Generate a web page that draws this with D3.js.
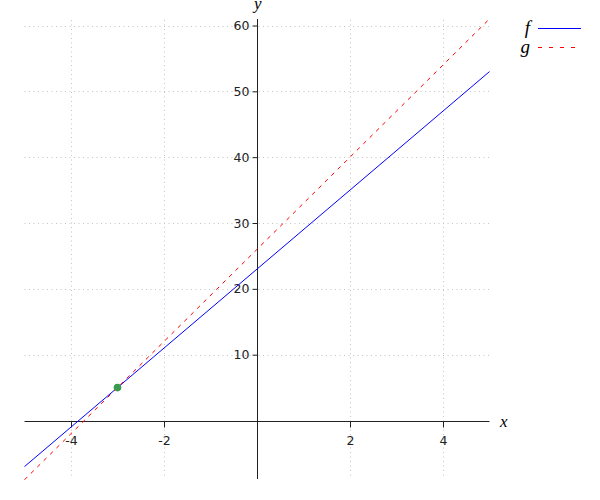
<html>
<head>
<style>
  body { margin: 0; background: #fff; }
</style>
<script src="https://d3js.org/d3.v7.min.js"></script>
</head>
<body>
<svg width="600" height="500"></svg>
<script>
  // values
  var xEnds = [-5, 5];
  var fVals = [-7, 53];
  var gVals = [-9, 61];
  var pointX = [-3];
  var pointY = [5];
  var xTicks = [-4, -2, 2, 4];
  var yTicks = [10, 20, 30, 40, 50, 60];
  var names = ["f", "g"];
  var colors = ["#0000ff", "#ff0000"];

  var serif = "'Liberation Serif', 'DejaVu Serif', serif";
  var svg = d3.select("svg");

  var x = d3.scaleLinear().domain([-5, 5]).range([24.5, 489.5]);
  var y = d3.scaleLinear().domain([0, 60]).range([420.5, 25.5]);

  // grid
  svg.append("g").selectAll("line")
    .data(yTicks).enter().append("line")
    .attr("x1", x(-5)).attr("x2", x(5))
    .attr("y1", function(d){ return Math.round(y(d)) + 0.5; })
    .attr("y2", function(d){ return Math.round(y(d)) + 0.5; })
    .attr("stroke", "#c4c4c4").attr("stroke-width", 1).attr("stroke-dasharray", "1,3.5");

  svg.append("g").selectAll("line")
    .data(xTicks).enter().append("line")
    .attr("x1", function(d){ return Math.round(x(d)) + 0.5; })
    .attr("x2", function(d){ return Math.round(x(d)) + 0.5; })
    .attr("y1", 20).attr("y2", 479)
    .attr("stroke", "#c4c4c4").attr("stroke-width", 1).attr("stroke-dasharray", "1,3.5");

  // axes
  var xAxis = svg.append("g")
    .attr("transform", "translate(0," + (Math.round(y(0)) + 0.5) + ")")
    .call(d3.axisBottom(x).tickValues(xTicks).tickSize(6).tickPadding(9).tickSizeOuter(0)
      .tickFormat(function(d){ return d; }));
  var yAxis = svg.append("g")
    .attr("transform", "translate(" + (Math.round(x(0)) + 0.5) + ",0)")
    .call(d3.axisLeft(y).tickValues(yTicks).tickSize(5).tickPadding(3).tickSizeOuter(0));

  xAxis.select(".domain").attr("d", "M" + x(-5) + ",0H" + x(5));
  yAxis.select(".domain").attr("d", "M0,479V19");
  [xAxis, yAxis].forEach(function(a){
    a.attr("font-size", null).attr("font-family", null);
    a.select(".domain").attr("stroke", "#222");
    a.selectAll(".tick line").attr("stroke", "#222");
    a.selectAll(".tick text").attr("fill", "#222")
      .style("font-size", "12.5px")
      .style("font-family", "'DejaVu Sans', sans-serif");
  });

  svg.append("text").attr("x", 500).attr("y", 427)
    .style("font-family", serif).style("font-style", "italic").style("font-size", "17px")
    .text("x");
  svg.append("text").attr("x", 254).attr("y", 9)
    .style("font-family", serif).style("font-style", "italic").style("font-size", "17px")
    .text("y");

  // lines
  var line = d3.line().x(function(d){ return x(d[0]); }).y(function(d){ return y(d[1]); });
  svg.append("path").datum(d3.zip(xEnds, fVals)).attr("d", line)
    .attr("fill", "none").style("stroke", colors[0]).attr("stroke-width", 1);
  svg.append("path").datum(d3.zip(xEnds, gVals)).attr("d", line)
    .attr("fill", "none").style("stroke", colors[1]).attr("stroke-width", 1)
    .attr("stroke-dasharray", "4,5");

  svg.selectAll("circle.pt").data(d3.zip(pointX, pointY)).enter().append("circle")
    .attr("cx", function(d){ return x(d[0]); })
    .attr("cy", function(d){ return y(d[1]); })
    .attr("r", 3.8).attr("fill", "#3a9a4f");

  // legend
  names.forEach(function(n, i){
    var yy = 28 + i * 19;
    svg.append("text").attr("x", 530).attr("y", yy + 6)
      .attr("text-anchor", "end")
      .style("font-family", serif).style("font-style", "italic").style("font-size", "19px")
      .text(n);
    svg.append("line").attr("x1", 538).attr("x2", 581).attr("y1", yy + 0.5).attr("y2", yy + 0.5)
      .style("stroke", colors[i]).attr("stroke-width", 1)
      .attr("stroke-dasharray", i ? "4,7" : null);
  });
</script>
</body>
</html>
